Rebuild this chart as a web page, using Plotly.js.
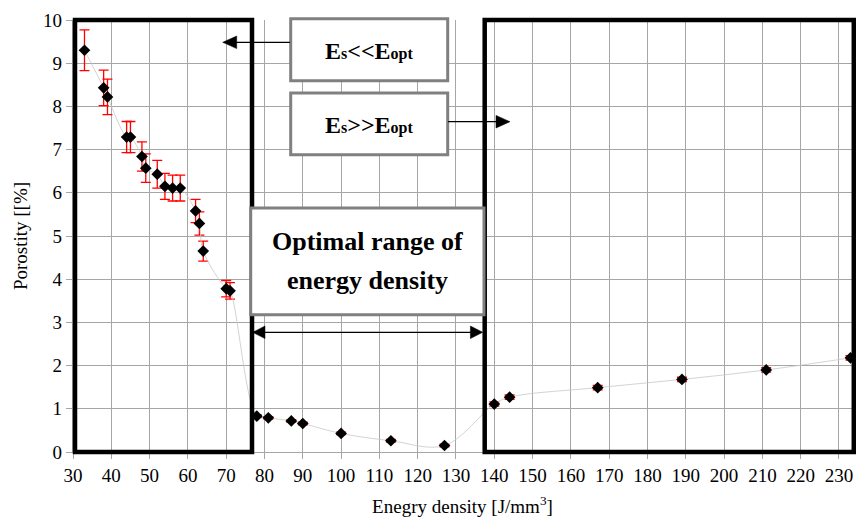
<!DOCTYPE html>
<html>
<head>
<meta charset="utf-8">
<script src="https://cdn.plot.ly/plotly-3.0.1.min.js"></script>
<style>
html,body{margin:0;padding:0;background:#fff;}
#chart{width:856px;height:521px;}
</style>
</head>
<body>
<div id="chart"></div>
<script>
// ---- data ----
const energyDensity = [33, 38, 39, 44, 45, 48, 49, 52, 54, 56, 58, 62, 63, 64, 70, 71,
                       78, 81, 87, 90, 100, 113, 127, 140, 144, 167, 189, 211, 233];
const porosity = [9.30, 8.43, 8.22, 7.29, 7.29, 6.84, 6.57, 6.43, 6.15, 6.11, 6.11, 5.58, 5.29, 4.65, 3.78, 3.73,
                  0.83, 0.79, 0.72, 0.66, 0.43, 0.26, 0.15, 1.11, 1.27, 1.49, 1.68, 1.90, 2.18];
const porosityErr = [0.47, 0.41, 0.41, 0.36, 0.36, 0.34, 0.33, 0.32, 0.30, 0.30, 0.30, 0.27, 0.27, 0.23, 0.19, 0.19,
                     0.03, 0.03, 0.03, 0.03, 0.03, 0.03, 0.03, 0.05, 0.05, 0.05, 0.05, 0.05, 0.05];
const xTitle = 'Enegry density [J/mm<sup>3</sup>]';
const yTitle = 'Porostity [[%]';
const labelLow = '<b>E<span style="font-size:16px">s</span>&lt;&lt;E<span style="font-size:16px">opt</span></b>';
const labelHigh = '<b>E<span style="font-size:16px">s</span>&gt;&gt;E<span style="font-size:16px">opt</span></b>';
const labelOpt1 = '<b>Optimal range of</b>';
const labelOpt2 = '<b>energy density</b>';

// ---- plot-area geometry (pixels) ----
const W = 856, H = 521;
const L = 73, R = 852, T = 20, B = 452;
const px = x => (x - L) / (R - L);
const py = y => (B - y) / (B - T);

function rect(x0, y0, x1, y1, color, width, fill) {
  return {type: 'rect', xref: 'paper', yref: 'paper', x0: px(x0), x1: px(x1), y0: py(y1), y1: py(y0),
          line: {color: color, width: width}, fillcolor: fill || 'rgba(0,0,0,0)', layer: 'above'};
}
function seg(x0, y0, x1, y1) {
  return {type: 'line', xref: 'paper', yref: 'paper', x0: px(x0), x1: px(x1), y0: py(y0), y1: py(y1),
          line: {color: '#000', width: 1.3}, layer: 'above'};
}
function tri(tipX, tipY, baseX, half) {
  const p = `M${px(tipX)},${py(tipY)} L${px(baseX)},${py(tipY - half)} L${px(baseX)},${py(tipY + half)} Z`;
  return {type: 'path', xref: 'paper', yref: 'paper', path: p, fillcolor: '#000', line: {color: '#000', width: 0.5}, layer: 'above'};
}

const fontFam = 'Liberation Serif';

const trace = {
  x: energyDensity, y: porosity, type: 'scatter', mode: 'lines+markers',
  line: {color: '#c8c8c8', width: 0.8, shape: 'spline', smoothing: 1},
  marker: {symbol: 'diamond', size: 9, color: '#000', line: {width: 0}},
  error_y: {type: 'data', array: porosityErr, visible: true, color: '#ff0000', thickness: 1.3, width: 5},
  cliponaxis: false, showlegend: false, hoverinfo: 'x+y'
};
const axisCommon = {
  showgrid: true, gridcolor: '#a6a6a6', gridwidth: 1.3, zeroline: false,
  showline: true, linecolor: '#a6a6a6', linewidth: 1.3,
  ticks: 'outside', ticklen: 6, tickcolor: '#a6a6a6', tickwidth: 1.3,
  tickfont: {family: fontFam, size: 19, color: '#000'}
};
const layout = {
  width: W, height: H,
  margin: {l: L, r: W - R, t: T, b: H - B},
  paper_bgcolor: '#fff', plot_bgcolor: '#fff',
  font: {family: fontFam, color: '#000'},
  xaxis: Object.assign({}, axisCommon, {
    range: [30, 233.4], tick0: 30, dtick: 10, automargin: false,
    title: {text: xTitle, font: {family: fontFam, size: 19, color: '#000'}, standoff: 14}
  }),
  yaxis: Object.assign({}, axisCommon, {
    range: [0, 10], tick0: 0, dtick: 1, automargin: false,
    title: {text: yTitle, font: {family: fontFam, size: 19, color: '#000'}, standoff: 10}
  }),
  shapes: [
    rect(75, 20, 252, 452, '#000', 4.5),
    rect(484.7, 20, 853.8, 452, '#000', 4.5),
    rect(290.7, 18.7, 447.7, 80.7, '#808080', 3, '#fff'),
    rect(290.7, 93, 447.7, 154.7, '#808080', 3, '#fff'),
    rect(250.7, 208, 484, 314.7, '#808080', 3, '#fff'),
    seg(290, 42.3, 236, 42.3), tri(222.7, 42.3, 236.7, 6.3),
    seg(448, 121.7, 497, 121.7), tri(510, 121.7, 496, 6.3),
    seg(264, 332.3, 471, 332.3), tri(252.7, 332.3, 265, 6.3), tri(482.7, 332.3, 470.4, 6.3)
  ],
  annotations: [
    {xref: 'paper', yref: 'paper', x: px(369.5), y: py(51), text: labelLow, showarrow: false,
     xanchor: 'center', yanchor: 'middle', font: {family: fontFam, size: 24, color: '#000'}},
    {xref: 'paper', yref: 'paper', x: px(369.5), y: py(124.5), text: labelHigh, showarrow: false,
     xanchor: 'center', yanchor: 'middle', font: {family: fontFam, size: 24, color: '#000'}},
    {xref: 'paper', yref: 'paper', x: px(367.3), y: py(242), text: labelOpt1, showarrow: false,
     xanchor: 'center', yanchor: 'middle', font: {family: fontFam, size: 26, color: '#000'}},
    {xref: 'paper', yref: 'paper', x: px(367.3), y: py(280.5), text: labelOpt2, showarrow: false,
     xanchor: 'center', yanchor: 'middle', font: {family: fontFam, size: 26, color: '#000'}}
  ]
};

Plotly.newPlot('chart', [trace], layout, {displayModeBar: false});
</script>
</body>
</html>
